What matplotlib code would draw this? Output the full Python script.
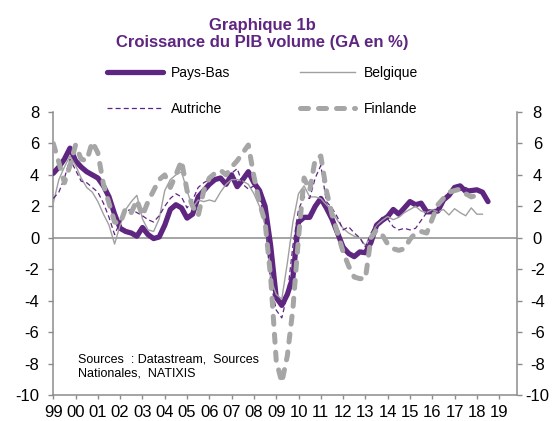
import numpy as np
import matplotlib
matplotlib.use("Agg")
import matplotlib.pyplot as plt

plt.rcParams['font.family'] = ['Liberation Sans', 'DejaVu Sans']
plt.rcParams['axes.unicode_minus'] = False

# quarterly GDP growth (% y/y), from 1999Q1
pays_bas = [4.1, 4.5, 5.0, 5.7, 4.9, 4.5, 4.2, 4.0,
            3.8, 3.3, 2.6, 1.5, 0.6, 0.4, 0.3, 0.1,
            0.65, 0.2, -0.05, 0.05, 0.8, 1.8, 2.1, 1.9,
            1.25, 1.5, 2.6, 3.0, 3.4, 3.7, 3.8, 3.4,
            4.0, 3.25, 3.7, 4.2, 3.5, 3.0, 2.0, -0.5,
            -3.8, -4.3, -3.6, -2.5, 1.0, 1.3, 1.3, 2.0,
            2.5, 1.9, 1.2, 0.3, -0.6, -1.0, -1.2, -0.9,
            -0.95, -0.3, 0.8, 1.1, 1.35, 1.8, 1.5, 1.9,
            2.3, 2.1, 2.2, 1.65, 1.65, 1.7, 2.4, 2.7,
            3.2, 3.3, 2.95, 3.0, 3.05, 2.9, 2.3]
belgique = [2.2, 3.7, 4.5, 5.2, 4.6, 3.8, 3.2, 2.9,
            2.3, 1.5, 0.8, -0.4, 0.8, 1.8, 2.3, 2.7,
            1.2, 0.5, 0.4, 1.2, 3.0, 3.7, 4.0, 4.2,
            3.0, 1.9, 2.4, 2.3, 2.4, 2.3, 2.9, 3.4,
            3.7, 3.7, 3.6, 3.4, 2.8, 2.0, 0.8, -2.6,
            -3.6, -3.9, -1.6, 1.0, 2.8, 3.3, 2.6, 2.6,
            2.5, 2.1, 1.7, 1.1, 0.6, 0.3, 0.1, 0.0,
            -0.5, 0.2, 0.8, 1.1, 1.35, 1.15, 1.3, 1.6,
            1.8, 2.0, 1.7, 1.6, 1.8, 1.65, 1.8, 1.45,
            1.85, 1.6, 1.4, 1.9, 1.5, 1.5]
autriche = [2.5, 2.9, 3.8, 5.0, 4.3, 3.6, 3.5, 3.2,
            2.9, 2.2, 1.3, 0.2, 1.0, 1.7, 1.8, 1.6,
            1.4, 1.15, 1.0, 1.4, 2.0, 2.5, 2.8, 2.6,
            1.9, 2.4, 3.2, 3.5, 3.7, 3.7, 3.8, 3.9,
            4.1, 4.4, 3.4, 3.1, 3.3, 2.5, 1.2, -2.8,
            -4.6, -5.1, -3.6, -0.5, 1.8, 2.6, 2.5, 3.8,
            4.6, 2.3, 1.9, 1.3, 0.5, 0.7, 0.3, 0.0,
            -0.6, 0.3, 0.9, 1.3, 1.2, 0.7, 0.5, 0.6,
            0.5, 0.6, 1.1, 1.6, 1.6, 1.6, 2.4, 2.9,
            3.1, 3.0, 3.2, 3.0, 3.1, 3.0]
finlande = [6.0, 4.8, 3.5, 4.6, 5.9, 5.0, 4.9, 6.1,
            5.4, 3.4, 2.2, 1.0, 0.9, 1.9, 1.6, 2.4,
            1.4, 2.3, 3.0, 3.7, 4.0, 3.2, 4.0, 4.9,
            3.0, 2.0, 1.4, 3.0, 3.8, 4.1, 4.3, 4.0,
            4.5, 4.9, 5.4, 5.9, 3.9, 2.2, 1.0, -2.5,
            -7.8, -9.2, -7.5, -4.5, 0.0, 3.8, 3.0, 5.0,
            5.2, 3.0, 1.5, 0.3, -0.9, -1.8, -2.5, -2.6,
            -2.6, 0.0, 0.5, 0.2, -0.4, -0.7, -0.8, -0.7,
            -0.1, 0.3, 0.4, 0.3, 1.2, 2.1, 2.5, 2.9,
            3.0, 3.1, 2.8, 2.6, 2.7, 2.7]

years = list(range(1999, 2020))
year_labels = ["%02d" % (y % 100) for y in years]
y_ticks = list(range(-10, 9, 2))

purple = '#5e2581'
grey = '#a6a6a6'
axis_grey = '#8c8c8c'


def quarters(vals):
    return 1999 + np.arange(len(vals)) / 4.0


fig = plt.figure(figsize=(5.55, 4.21), dpi=100)
ax = fig.add_axes([0.096, 0.0618, 0.8355, 0.6722])

ax.axhline(0, color=axis_grey, lw=1.1, zorder=1)
ax.plot(quarters(pays_bas), pays_bas, color=purple, lw=3.8,
        solid_capstyle='round', solid_joinstyle='round', label='Pays-Bas', zorder=3)
ax.plot(quarters(belgique), belgique, color='#a0a0a0', lw=1.0,
        label='Belgique', zorder=3)
ax.plot(quarters(autriche), autriche, color=purple, lw=0.9,
        linestyle=(0, (4, 2.5)), label='Autriche', zorder=4)
ax.plot(quarters(finlande), finlande, color=grey, lw=3.6,
        linestyle=(0, (1.6, 2.0)), dash_capstyle='round', label='Finlande', zorder=5)

ax.set_xlim(1999, 2019.8)
ax.set_ylim(-10, 8)
ax.set_xticks(years)
ax.set_xticklabels(year_labels)
ax.set_yticks(y_ticks)

for s in ['top', 'right']:
    ax.spines[s].set_visible(False)
for s in ['left', 'bottom']:
    ax.spines[s].set_color(axis_grey)
    ax.spines[s].set_linewidth(1.1)

ax.tick_params(axis='y', direction='out', length=3.6, width=1, color=axis_grey,
               labelsize=12, pad=6.5)
ax.tick_params(axis='x', direction='out', length=3, width=1, color=axis_grey,
               labelsize=12, pad=4.5)

ax2 = ax.twinx()
ax2.set_ylim(-10, 8)
ax2.set_yticks(y_ticks)
ax2.spines['top'].set_visible(False)
ax2.spines['left'].set_visible(False)
ax2.spines['bottom'].set_visible(False)
ax2.spines['right'].set_color(axis_grey)
ax2.spines['right'].set_linewidth(1.1)
ax2.tick_params(axis='y', direction='out', length=3.6, width=1, color=axis_grey,
                labelsize=12, pad=11)
for t in ax2.get_yticklabels():
    t.set_ha('center')

fig.text(0.472, 1 - 18 / 421, "Graphique 1b\nCroissance du PIB volume (GA en %)",
         ha='center', va='top', fontsize=12, fontweight='bold', color=purple,
         linespacing=1.15)

h, l = ax.get_legend_handles_labels()
order = [0, 2, 1, 3]
fig.legend([h[i] for i in order], [l[i] for i in order], ncol=2,
           loc='upper left', bbox_to_anchor=(0.193, 1 - 66 / 421),
           frameon=False, fontsize=10, handlelength=4.0, handletextpad=0.6,
           labelspacing=1.55, columnspacing=5.0, borderpad=0, borderaxespad=0)

fig.text(78 / 555, 1 - 354 / 421, "Sources  : Datastream,  Sources\nNationales,  NATIXIS",
         ha='left', va='top', fontsize=9, linespacing=1.2)

fig.savefig("out.png", dpi=100)
